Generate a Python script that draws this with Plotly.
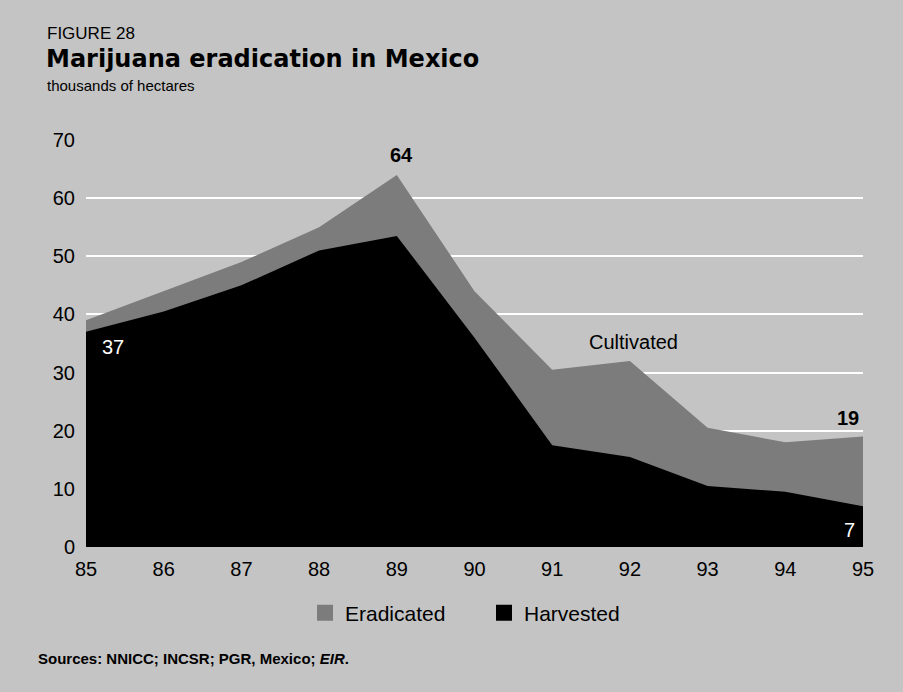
import plotly.graph_objects as go

# Marijuana cultivation in Mexico, thousands of hectares
years = [85, 86, 87, 88, 89, 90, 91, 92, 93, 94, 95]
year_labels = ["85", "86", "87", "88", "89", "90", "91", "92", "93", "94", "95"]
cultivated = [39, 44, 49, 55, 64, 44, 30.5, 32, 20.5, 18, 19]
harvested = [37, 40.5, 45, 51, 53.5, 36, 17.5, 15.5, 10.5, 9.5, 7]
y_ticks = [0, 10, 20, 30, 40, 50, 60, 70]

BG = "#c4c4c4"
GRAY = "#7c7c7c"
FONT = "Liberation Sans, Arial, sans-serif"

fig = go.Figure()

# Total cultivated area (eradicated part shows above the harvested area)
fig.add_trace(go.Scatter(
    x=years, y=cultivated, mode="lines", line=dict(width=0, color=GRAY),
    fill="tozeroy", fillcolor=GRAY, showlegend=False, hoverinfo="x+y",
    name="Cultivated"))
fig.add_trace(go.Scatter(
    x=years, y=harvested, mode="lines", line=dict(width=0, color="black"),
    fill="tozeroy", fillcolor="black", showlegend=False, hoverinfo="x+y",
    name="Harvested"))

# Legend entries as square swatches
fig.add_trace(go.Scatter(
    x=[None], y=[None], mode="markers", name="Eradicated",
    marker=dict(symbol="square", size=20, color=GRAY)))
fig.add_trace(go.Scatter(
    x=[None], y=[None], mode="markers", name="Harvested",
    marker=dict(symbol="square", size=20, color="black")))

ann = []
# Value labels
ann.append(dict(x=years[4], y=cultivated[4], text="<b>64</b>", showarrow=False,
                xanchor="center", yanchor="bottom", xshift=5, yshift=7,
                font=dict(size=20, color="black")))
ann.append(dict(x=years[0], y=harvested[0], text="37", showarrow=False,
                xanchor="left", yanchor="top", xshift=14, yshift=-2,
                font=dict(size=20, color="white")))
ann.append(dict(x=years[-1], y=cultivated[-1], text="<b>19</b>", showarrow=False,
                xanchor="right", yanchor="bottom", xshift=-2, yshift=6,
                font=dict(size=20, color="black")))
ann.append(dict(x=years[-1], y=0, text="7", showarrow=False,
                xanchor="right", yanchor="bottom", xshift=-6, yshift=4,
                font=dict(size=20, color="white")))
ann.append(dict(x=92.05, y=35.3, text="Cultivated", showarrow=False,
                xanchor="center", yanchor="middle",
                font=dict(size=20, color="black")))

# Heading block and source note (paper coordinates)
H = 692 - 140 - 145
W = 903 - 86 - 40


def px(x):
    return (x - 86) / W


def py(y):
    return (547 - y) / H


ann.append(dict(xref="paper", yref="paper", x=px(45), y=py(33), text="FIGURE 28",
                showarrow=False, xanchor="left", yanchor="middle",
                font=dict(size=17, color="black")))
ann.append(dict(xref="paper", yref="paper", x=px(44), y=py(59),
                text="<b>Marijuana eradication in Mexico</b>",
                showarrow=False, xanchor="left", yanchor="middle",
                font=dict(size=24, color="black", family="DejaVu Sans")))
ann.append(dict(xref="paper", yref="paper", x=px(45), y=py(85),
                text="thousands of hectares", showarrow=False,
                xanchor="left", yanchor="middle",
                font=dict(size=15, color="black")))
ann.append(dict(xref="paper", yref="paper", x=px(36), y=py(658),
                text="<b>Sources: NNICC; INCSR; PGR, Mexico; <i>EIR</i>.</b>",
                showarrow=False, xanchor="left", yanchor="middle",
                font=dict(size=15, color="black")))

fig.update_layout(
    width=903, height=692,
    margin=dict(l=86, r=40, t=140, b=145),
    paper_bgcolor=BG, plot_bgcolor=BG,
    font=dict(family=FONT, color="black", size=20),
    annotations=ann,
    legend=dict(orientation="h", x=px(305), y=py(613), xanchor="left",
                yanchor="middle", bgcolor="rgba(0,0,0,0)",
                font=dict(size=21), itemwidth=30, tracegroupgap=0,
                entrywidth=134, entrywidthmode="pixels"),
    xaxis=dict(range=[85, 95], tickvals=years, ticktext=year_labels,
               showgrid=False, zeroline=False, showline=False, ticks="",
               ticklabelstandoff=8, tickfont=dict(size=20)),
    yaxis=dict(range=[0, 70], tickvals=y_ticks, showgrid=True,
               gridcolor="white", gridwidth=2, zeroline=False, showline=False,
               ticks="", ticklabelstandoff=10, tickfont=dict(size=20)),
)

fig.write_html("out.html")
